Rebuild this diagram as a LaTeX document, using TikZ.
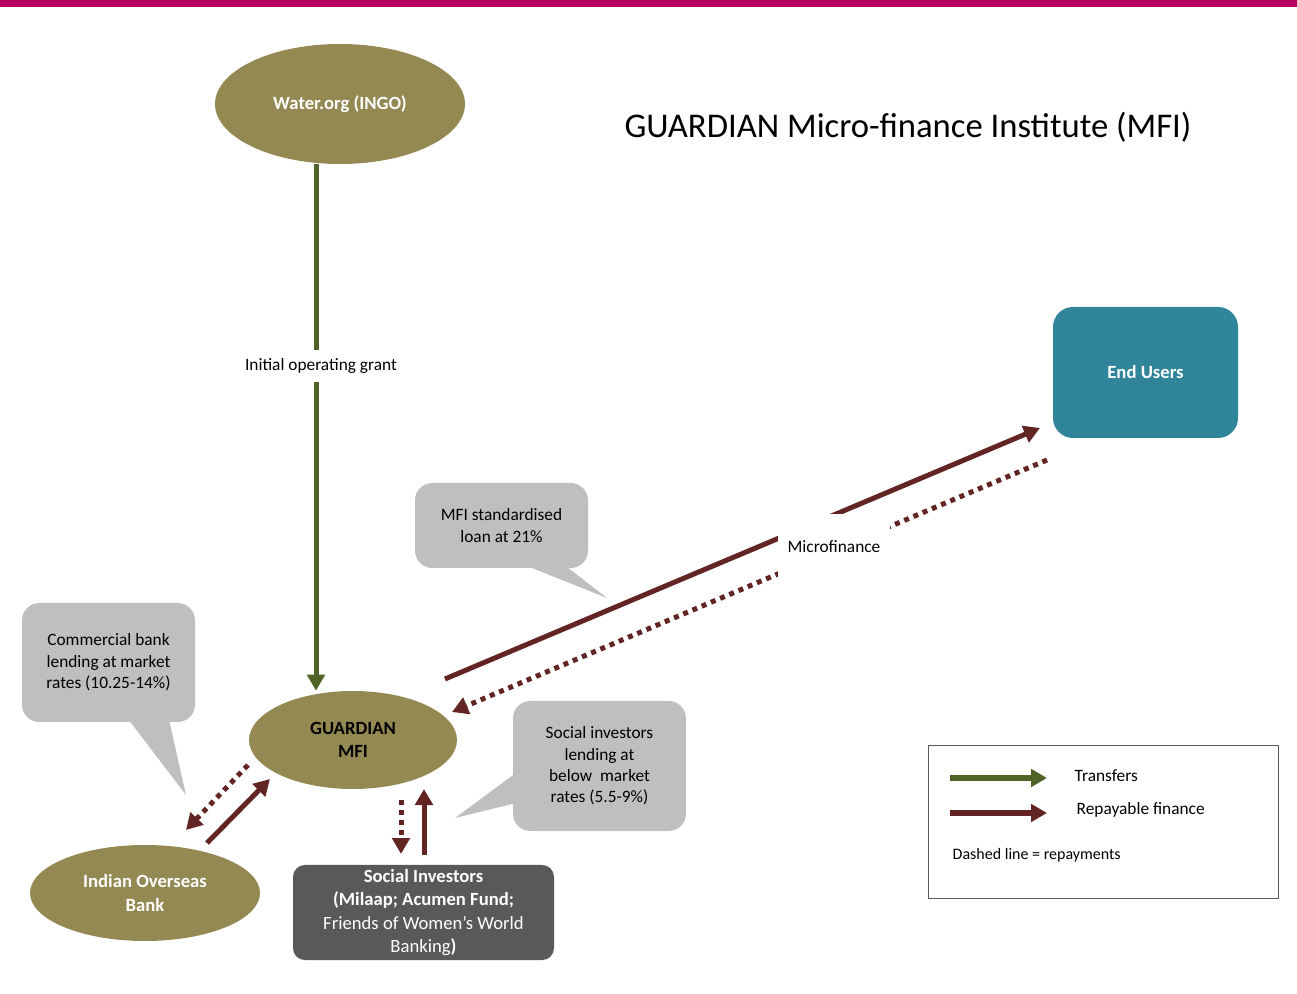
\documentclass[tikz,border=0pt]{standalone}
\usepackage{fontspec}
\setmainfont{Carlito}
\usetikzlibrary{arrows.meta,shapes.geometric}
\definecolor{topbar}{RGB}{181,0,96}
\definecolor{orgolive}{RGB}{148,137,82}
\definecolor{grantgreen}{RGB}{79,98,40}
\definecolor{loanred}{RGB}{99,37,35}
\definecolor{userteal}{RGB}{49,133,155}
\definecolor{calloutgrey}{RGB}{191,191,191}
\definecolor{investgrey}{RGB}{89,89,89}
\newcommand{\bodysize}{\fontsize{13}{16}\selectfont}

\begin{document}
\begin{tikzpicture}[x=0.75pt,y=-0.75pt,
	org/.style={ellipse,fill=orgolive,font=\fontsize{14}{17.5}\selectfont\bfseries,align=center,inner sep=0pt},
	callout/.style={fill=calloutgrey,rounded corners=13pt,minimum width=129.75pt,align=center,font=\bodysize},
	grant/.style={draw=grantgreen,line width=3.75pt,-{Triangle[length=12pt,width=13pt]}},
	loan/.style={draw=loanred,line width=3.75pt,-{Triangle[length=12pt,width=13pt]}},
	repay/.style={loan,dash pattern=on 3.75pt off 3.75pt},
	gap/.style={fill=white,font=\bodysize}]
	\useasboundingbox (0,0) rectangle (1297,994);
	\fill[topbar] (0,0) rectangle (1297,7);
	
	% organisations
	\node[org,text=white,minimum width=187.5pt,minimum height=90pt] (water) at (340,104) {Water.org (INGO)};
	\node[org,minimum width=156pt,minimum height=73.5pt] (mfi) at (353,740) {GUARDIAN\\MFI};
	\node[org,text=white,minimum width=172.5pt,minimum height=72pt] (bank) at (145,893) {Indian Overseas\\Bank};
	\node[fill=userteal,rounded corners=15pt,minimum width=138.75pt,minimum height=98.25pt,text=white,font=\fontsize{14}{17}\selectfont\bfseries] (users) at (1145.5,372.5) {End Users};
	\node[fill=investgrey,rounded corners=9pt,minimum width=195.75pt,minimum height=71.25pt,text=white,align=center,font=\fontsize{14}{17.5}\selectfont] (social) at (423.5,912.5) {\textbf{Social Investors}\\\textbf{(Milaap; Acumen Fund;}\\Friends of Women’s World\\Banking\textbf{)}};
	
	\node[font=\fontsize{26}{30}\selectfont] (title) at (908,127) {GUARDIAN Micro-finance Institute (MFI)};
	
	% callouts
	\fill[calloutgrey] (512,560) -- (607,598) -- (558,560) -- cycle;
	\node[callout,minimum height=63.75pt] (c1) at (501.5,525.5) {MFI standardised\\loan at 21\%};
	\fill[calloutgrey] (125,715) -- (186,795) -- (168,715) -- cycle;
	\node[callout,minimum height=89.25pt] (c2) at (108.5,662.5) {Commercial bank\\lending at market\\rates (10.25-14\%)};
	\fill[calloutgrey] (520,770) -- (455,818) -- (520,802) -- cycle;
	\node[callout,minimum height=97.5pt] (c3) at (599.5,766) {Social investors\\lending at\\below~~market\\rates (5.5-9\%)};
	
	% flows
	\draw[grant] ([xshift=-18pt]water.south) -- ([xshift=-18pt]water.south |- mfi.north);
	\node[gap,inner ysep=6pt] (grantlbl) at (321,366) {Initial operating grant};
	
	\coordinate (mfout) at (445,679);
	\coordinate (mfin) at (1040,428);
	\coordinate (rpout) at (1047,460);
	\coordinate (rpin) at (452,712);
	\draw[loan] (mfout) -- (mfin);
	\draw[repay] (rpout) -- (rpin);
	\node[gap,minimum width=84pt,minimum height=50pt] (mflbl) at (834,547) {Microfinance};
	
	\coordinate (bkout) at (207,843);
	\coordinate (bkin) at (270,779);
	\coordinate (bkrpout) at (248,765);
	\coordinate (bkrpin) at (186,830);
	\draw[loan] (bkout) -- (bkin);
	\draw[repay] (bkrpout) -- (bkrpin);
	
	\coordinate (sirpout) at (401,800);
	\coordinate (sirpin) at (401,854);
	\coordinate (siout) at (424,855);
	\coordinate (siin) at (424,789);
	\draw[repay] (sirpout) -- (sirpin);
	\draw[loan] (siout) -- (siin);
	
	% legend
	\draw[gray!70!black,thin] (928,745) rectangle (1278,898);
	\coordinate (lg1) at (950,778);
	\coordinate (lg2) at (950,813);
	\draw[grant,line width=4.5pt] (lg1) -- ++(97,0);
	\draw[loan,line width=4.5pt] (lg2) -- ++(97,0);
	\node[anchor=west,font=\bodysize] (lgt1) at (1070,776) {Transfers};
	\node[anchor=west,font=\bodysize] (lgt2) at (1072,810) {Repayable finance};
	\node[anchor=west,font=\fontsize{12}{14}\selectfont] (lgt3) at (948,855) {Dashed line = repayments};
\end{tikzpicture}
\end{document}
